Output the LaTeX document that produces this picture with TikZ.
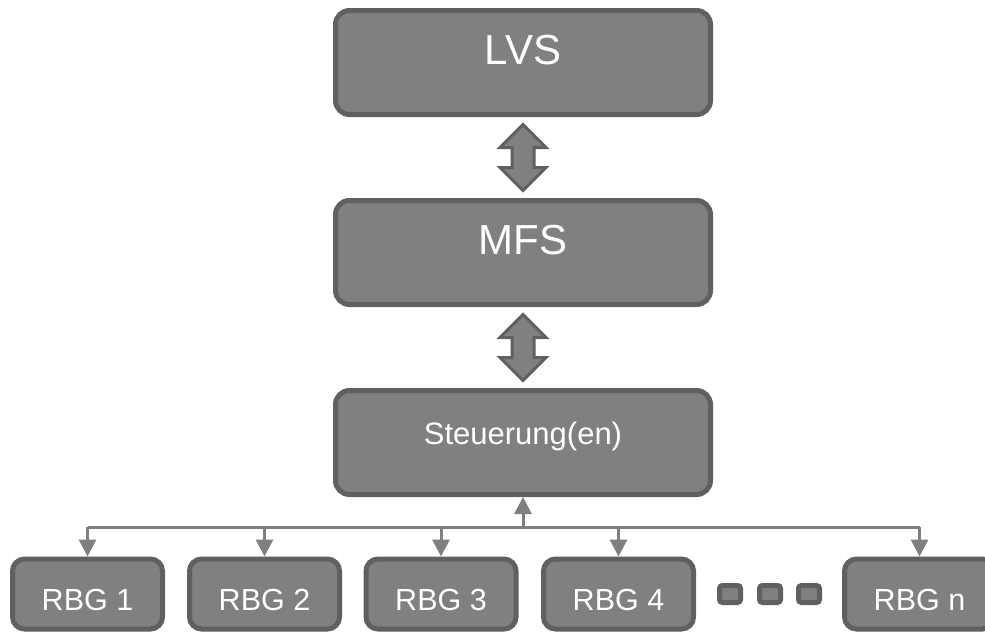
\documentclass[tikz,border=0pt]{standalone}
\usepackage{fontspec}
\setmainfont{Liberation Sans}
\usetikzlibrary{arrows.meta,calc}
\definecolor{boxfill}{HTML}{808080}
\definecolor{boxline}{HTML}{606060}
\definecolor{busline}{HTML}{7F7F7F}
\tikzset{
  bigbox/.style={draw=boxline, fill=boxfill, line width=5pt, rounded corners=14pt,
    minimum width=375pt, minimum height=104pt, inner sep=0pt},
  rbgbox/.style={draw=boxline, fill=boxfill, line width=5pt, rounded corners=12pt,
    minimum width=150pt, minimum height=70pt, inner sep=0pt},
  dotbox/.style={draw=boxline, fill=boxfill, line width=5pt, rounded corners=3pt,
    minimum width=21pt, minimum height=17pt, inner sep=0pt},
  bigtext/.style={text=white, anchor=base, inner sep=0pt, font=\fontsize{42}{50}\selectfont},
  midtext/.style={text=white, anchor=base, inner sep=0pt, font=\fontsize{31}{37}\selectfont},
  rbgtext/.style={text=white, anchor=base, inner sep=0pt, font=\fontsize{30.5}{36}\selectfont},
  busarrow/.style={draw=busline, line width=3pt, -{Triangle[width=17pt,length=17pt]}},
  busplain/.style={draw=busline, line width=3pt},
  dblarrow/.style={draw=boxline, fill=boxfill, line width=3pt, line join=miter},
}
\begin{document}
\begin{tikzpicture}[x=1pt,y=-1pt]
\clip (0,0) rectangle (985,632);
\fill[white] (0,0) rectangle (985,632);

% main boxes
\node[bigbox] (lvs) at (523,62.5) {};
\node[bigtext] (lvst) at (523,64) {LVS};
\node[bigbox] (mfs) at (523,252.5) {};
\node[bigtext] (mfst) at (523,254) {MFS};
\node[bigbox] (st) at (523,442.5) {};
\node[midtext] (stt) at (523,444) {Steuerung(en)};

% RBG boxes
\node[rbgbox] (r1) at (87.5,594) {};
\node[rbgtext] (r1t) at (87.5,610) {RBG 1};
\node[rbgbox] (r2) at (264.5,594) {};
\node[rbgtext] (r2t) at (264.5,610) {RBG 2};
\node[rbgbox] (r3) at (441,594) {};
\node[rbgtext] (r3t) at (441,610) {RBG 3};
\node[rbgbox] (r4) at (618.5,594) {};
\node[rbgtext] (r4t) at (618.5,610) {RBG 4};
\node[rbgbox] (rn) at (919.5,594) {};
\node[rbgtext] (rnt) at (919.5,610) {RBG n};

% dots
\node[dotbox] (d1) at (730,594) {};
\node[dotbox] (d2) at (770,594) {};
\node[dotbox] (d3) at (809,594) {};

% double arrows
\foreach \a/\b in {lvs/mfs, mfs/st}{
  \path ($(\a.south)+(0,7.5)$) coordinate (t)
        ($(\b.north)+(0,-7.5)$) coordinate (u);
  \draw[dblarrow] (t) -- ($(t)+(23,23)$) -- ($(t)+(11,23)$)
     -- ($(u)+(11,-23)$) -- ($(u)+(23,-23)$) -- (u)
     -- ($(u)+(-23,-23)$) -- ($(u)+(-11,-23)$)
     -- ($(t)+(-11,23)$) -- ($(t)+(-23,23)$) -- cycle;
}

% bus
\coordinate (bus) at (523,527);
\draw[busplain] (r1.north |- bus) -- (rn.north |- bus);
\draw[busarrow] (bus) -- (st.south);
\foreach \n in {r1,r2,r3,r4,rn}{
  \draw[busarrow] (\n.north |- bus) -- (\n.north);
}
\end{tikzpicture}
\end{document}
